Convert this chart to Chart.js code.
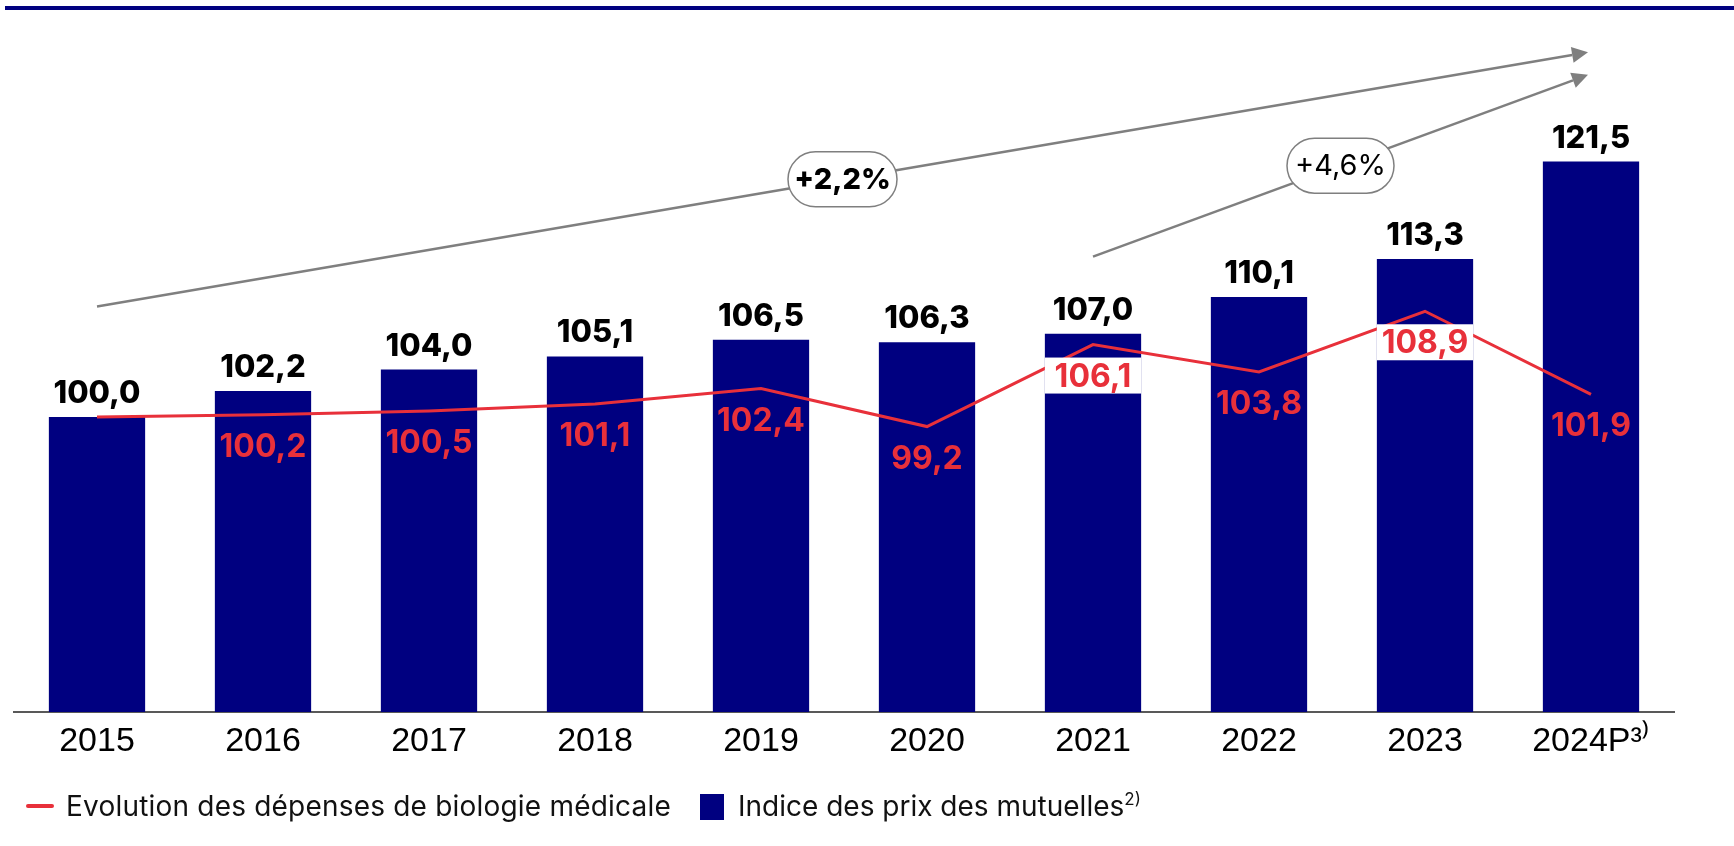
<!DOCTYPE html>
<html lang="fr">
<head>
<meta charset="utf-8">
<title>Biologie médicale et prix des mutuelles</title>
<script src="https://cdn.jsdelivr.net/npm/chart.js@4.4.1/dist/chart.umd.min.js"></script>
<style>
  html, body { margin: 0; padding: 0; background: #fff; }
  #wrap { position: relative; width: 1734px; height: 846px; overflow: hidden; }
  #topRule { position: absolute; left: 5px; right: 0; top: 6px; height: 4px; background: #000080; }
  #chart { position: absolute; left: 0; top: 0; }
  .lg { position: absolute; font-family: Inter, "Noto Sans", sans-serif; font-size: 28px; line-height: 30px; color: #111; white-space: nowrap; }
  .lg sup { font-size: 17px; vertical-align: 11px; line-height: 0; }
  #lgLine { position: absolute; left: 26px; top: 804px; width: 28px; height: 4px; border-radius: 2px; background: #e8303a; }
  #lgBox { position: absolute; left: 700px; top: 794px; width: 24px; height: 26px; background: #000080; }
</style>
</head>
<body>
<div id="wrap">
  <div id="topRule"></div>
  <canvas id="chart" width="1734" height="846"></canvas>
  <div id="lgLine"></div>
  <div class="lg" style="left:66px; top:791px; letter-spacing:0.2px;">Evolution des dépenses de biologie médicale</div>
  <div id="lgBox"></div>
  <div class="lg" style="left:738px; top:791px;">Indice des prix des mutuelles<sup>2)</sup></div>
</div>
<script>
// categories and series (index, 2015 = 100)
const years = ['2015', '2016', '2017', '2018', '2019', '2020', '2021', '2022', '2023', '2024P³⁾'];
const prixMutuelles = [100.0, 102.2, 104.0, 105.1, 106.5, 106.3, 107.0, 110.1, 113.3, 121.5];
const depensesBiologie = [100.0, 100.2, 100.5, 101.1, 102.4, 99.2, 106.1, 103.8, 108.9, 101.9];

// growth arrows, in data units
const trendStartYear = ['2015', '2021'];
const trendEndYear = ['2024P³⁾', '2024P³⁾'];
const trendStartValue = [109.3, 113.5];
const trendEndValue = [130.7, 128.8];
const trendRate = ['+2,2%', '+4,6%'];

// red labels that sit on a white patch
const boxedYears = ['2021', '2023'];

const NAVY = '#000080';
const RED = '#e8303a';
const GREY = '#7f7f7f';
const fmt = v => v.toFixed(1).replace('.', ',');

const labelsPlugin = {
  id: 'valueLabels',
  afterDatasetsDraw(chart) {
    const { ctx } = chart;
    const bars = chart.getDatasetMeta(0).data;
    const pts = chart.getDatasetMeta(1).data;
    ctx.save();
    ctx.textAlign = 'center';
    ctx.textBaseline = 'alphabetic';

    // bar values, above each bar
    ctx.font = '800 31px Inter, sans-serif';
    ctx.fillStyle = '#000';
    bars.forEach((b, i) => ctx.fillText(fmt(prixMutuelles[i]), b.x, b.y - 14));

    // line values, under each point (first one equals the bar label)
    ctx.font = '700 32px Inter, sans-serif';
    pts.forEach((p, i) => {
      if (i === 0) return;
      const base = p.y + 42;
      if (boxedYears.includes(years[i])) {
        const w = bars[i].width;
        ctx.fillStyle = '#fff';
        ctx.fillRect(bars[i].x - w / 2, base - 29, w, 36);
      }
      ctx.fillStyle = RED;
      ctx.fillText(fmt(depensesBiologie[i]), p.x, base);
    });

    // growth arrows with rate bubbles
    const { x, y } = chart.scales;
    trendRate.forEach((txt, i) => {
      const x0 = x.getPixelForValue(years.indexOf(trendStartYear[i]));
      const x1 = x.getPixelForValue(years.indexOf(trendEndYear[i])) - 3;
      const y0 = y.getPixelForValue(trendStartValue[i]);
      const y1 = y.getPixelForValue(trendEndValue[i]);
      const ang = Math.atan2(y1 - y0, x1 - x0);
      const head = 16;
      ctx.strokeStyle = GREY;
      ctx.fillStyle = GREY;
      ctx.lineWidth = 2.5;
      ctx.beginPath();
      ctx.moveTo(x0, y0);
      ctx.lineTo(x1 - head * Math.cos(ang), y1 - head * Math.sin(ang));
      ctx.stroke();
      ctx.beginPath();
      ctx.moveTo(x1, y1);
      ctx.lineTo(x1 - head * Math.cos(ang) + 8 * Math.sin(ang), y1 - head * Math.sin(ang) - 8 * Math.cos(ang));
      ctx.lineTo(x1 - head * Math.cos(ang) - 8 * Math.sin(ang), y1 - head * Math.sin(ang) + 8 * Math.cos(ang));
      ctx.closePath();
      ctx.fill();

      const cx = (x0 + x1) / 2;
      const cy = (y0 + y1) / 2;
      ctx.font = (i === 0 ? '800 ' : '400 ') + '29px Inter, sans-serif';
      const w = i === 0 ? 109 : 107;
      const h = 55;
      ctx.beginPath();
      ctx.roundRect(cx - w / 2, cy - h / 2, w, h, h / 2);
      ctx.fillStyle = '#fff';
      ctx.fill();
      ctx.lineWidth = 1.5;
      ctx.strokeStyle = GREY;
      ctx.stroke();
      ctx.fillStyle = '#000';
      ctx.textBaseline = 'middle';
      ctx.fillText(txt, cx, cy + 1);
      ctx.textBaseline = 'alphabetic';
    });
    ctx.restore();
  }
};

new Chart(document.getElementById('chart'), {
  type: 'bar',
  data: {
    labels: years,
    datasets: [
      {
        label: 'Indice des prix des mutuelles',
        data: prixMutuelles,
        backgroundColor: NAVY,
        categoryPercentage: 0.58,
        barPercentage: 1,
        order: 1
      },
      {
        type: 'line',
        label: 'Evolution des dépenses de biologie médicale',
        data: depensesBiologie,
        borderColor: RED,
        borderWidth: 3,
        pointRadius: 0,
        tension: 0,
        order: 0
      }
    ]
  },
  options: {
    responsive: false,
    animation: false,
    devicePixelRatio: 1,
    layout: { padding: { left: 14, right: 60, top: 20, bottom: 0 } },
    plugins: { legend: { display: false }, tooltip: { enabled: false } },
    scales: {
      x: {
        grid: { display: false, drawTicks: false },
        border: { display: true, color: '#595959', width: 2 },
        ticks: {
          color: '#000',
          font: { family: '"Liberation Sans", Arial, sans-serif', size: 34 },
          padding: 9,
          maxRotation: 0,
          autoSkip: false
        },
        afterFit(scale) { scale.height = 134; }
      },
      y: { display: false, min: 75.18, max: 133.41 }
    }
  },
  plugins: [labelsPlugin]
});
</script>
</body>
</html>
